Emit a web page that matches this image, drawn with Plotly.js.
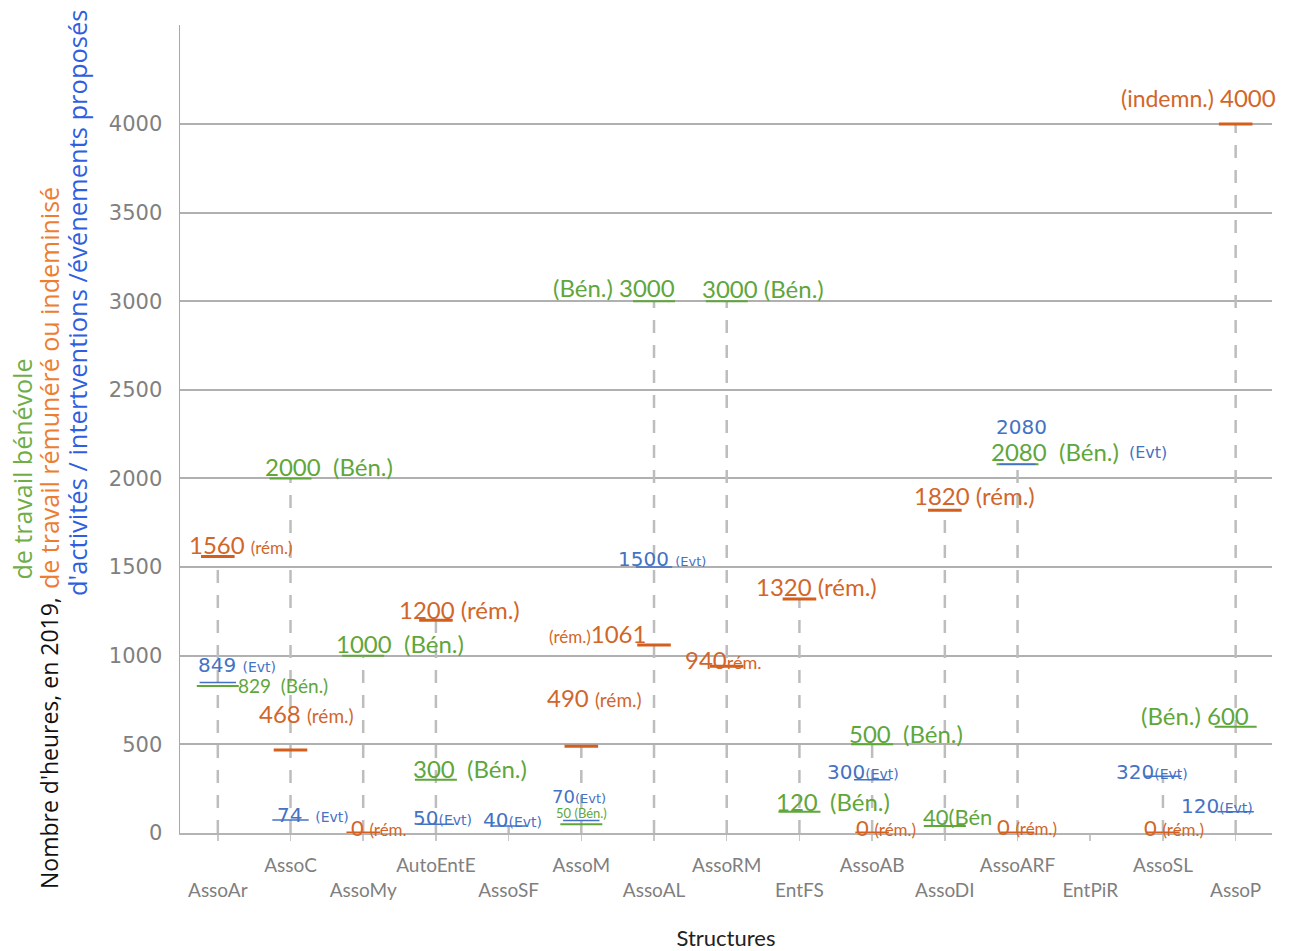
<!DOCTYPE html>
<html><head><meta charset="utf-8">
<script src="https://cdn.plot.ly/plotly-3.0.1.min.js"></script>
<style>html,body{margin:0;padding:0;background:#fff}#chart{width:1291px;height:951px}</style>
</head><body><div id="chart"></div>
<script>
// ---------- data ----------
const categories = ['AssoAr','AssoC','AssoMy','AutoEntE','AssoSF','AssoM','AssoAL','AssoRM','EntFS','AssoAB','AssoDI','AssoARF','EntPiR','AssoSL','AssoP'];
const heuresBenevole  = [829, 2000, 1000, 300, null, 50, 3000, 3000, 120, 500, 40, 2080, null, null, 600];
const heuresRemunere  = [1560, 468, 0, 1200, null, 490, 1061, 940, 1320, 0, 1820, 0, null, 0, 4000];
const evenements      = [849, 74, null, 50, 40, 70, 1500, null, null, 300, null, 2080, null, 320, 120];
const yTickValues = [0, 500, 1000, 1500, 2000, 2500, 3000, 3500, 4000];

// ---------- styles ----------
const ORANGE = '#d2662a', GREEN = '#5fa63b', BLUE = '#4472c4';
const NB = '\u00a0';
const tag = (t, s) => `<span style="font-size:${s}px">${t}</span>`;

// label layout: index, text builder, pixel offsets from the point
const remLabels = [
  {i:0,  f:v=>`${v}${NB}${tag('(rém.)',17)}`, dx:-30, dy:12},
  {i:1,  f:v=>`${v}${NB}${tag('(rém.)',19)}`, dx:-33, dy:37},
  {i:2,  f:v=>`${v}${NB}${tag('(rém.',17)}`, dx:-13, dy:6, size:22},
  {i:3,  f:v=>`${v}${NB}${tag('(rém.)',24)}`, dx:-38, dy:11},
  {i:5,  f:v=>`${v}${NB}${tag('(rém.)',19)}`, dx:-35, dy:49},
  {i:6,  f:v=>`${tag('(rém.)',17)}${v}`, dx:-106, dy:11},
  {i:7,  f:v=>`${v}${tag('rém.',18)}`, dx:-43, dy:7},
  {i:8,  f:v=>`${v}${NB}${tag('(rém.)',24)}`, dx:-44, dy:13},
  {i:9,  f:v=>`${v}${NB}${tag('(rém.)',17)}`, dx:-17, dy:6, size:22},
  {i:10, f:v=>`${v}${NB}${tag('(rém.)',24)}`, dx:-32, dy:15},
  {i:11, f:v=>`${v}${NB}${tag('(rém.)',17)}`, dx:-22, dy:7, size:22},
  {i:13, f:v=>`${v}${NB}${tag('(rém.)',17)}`, dx:-20, dy:6, size:22},
  {i:14, f:v=>`${tag('(indemn.)',23)}${NB}${v}`, dx:-116, dy:26}
];
const benLabels = [
  {i:0,  f:v=>`${v}${NB}${NB}(Bén.)`, dx:19, dy:1, size:19},
  {i:1,  f:v=>`${v}${NB}${NB}(Bén.)`, dx:-27, dy:12},
  {i:2,  f:v=>`${v}${NB}${NB}(Bén.)`, dx:-28, dy:12},
  {i:3,  f:v=>`${v}${NB}${NB}(Bén.)`, dx:-24, dy:11},
  {i:5,  f:v=>`${v}${NB}(Bén.)`, dx:-26, dy:11, size:13},
  {i:6,  f:v=>`(Bén.)${NB}${v}`, dx:-102, dy:14},
  {i:7,  f:v=>`${v}${NB}(Bén.)`, dx:-26, dy:13},
  {i:8,  f:v=>`${v}${NB}${NB}(Bén.)`, dx:-24, dy:10},
  {i:9,  f:v=>`${v}${NB}${NB}(Bén.)`, dx:-24, dy:11},
  {i:10, f:v=>`${v}(Bén`, dx:-23, dy:9, size:22},
  {i:11, f:v=>`${v}${NB}${NB}(Bén.)`, dx:-28, dy:13},
  {i:14, f:v=>`(Bén.)${NB}${v}`, dx:-96, dy:11}
];
const evtLabels = [
  {i:0,  f:v=>`${v}${NB}${tag('(Evt)',14)}`, dx:-21, dy:18},
  {i:1,  f:v=>`${v}${NB}${NB}${tag('(Evt)',14)}`, dx:-15, dy:5},
  {i:3,  f:v=>`${v}${tag('(Evt)',14)}`, dx:-24, dy:6},
  {i:4,  f:v=>`${v}${tag('(Evt)',14)}`, dx:-27, dy:6},
  {i:5,  f:v=>`${v}${tag('(Evt)',13)}`, dx:-30, dy:24, size:18},
  {i:6,  f:v=>`${v}${NB}${tag('(Evt)',13)}`, dx:-37, dy:8},
  {i:9,  f:v=>`${v}${tag('(Evt)',14)}`, dx:-46, dy:8},
  {i:11, f:v=>`${v}`, dx:-23, dy:37},
  {i:11, f:v=>`${tag('(Evt)',16)}`, dx:110, dy:12},
  {i:13, f:v=>`${v}${tag('(Evt)',14)}`, dx:-48, dy:4},
  {i:14, f:v=>`${v}${tag('(Evt)',14)}`, dx:-56, dy:6}
];

// ---------- traces ----------
const dropX = [], dropY = [];
categories.forEach((c, i) => {
  const vals = [heuresBenevole[i], heuresRemunere[i], evenements[i]].filter(v => v !== null);
  if (vals.length) { dropX.push(c, c, null); dropY.push(0, Math.max(...vals), null); }
});

const traces = [
  {x: dropX, y: dropY, mode: 'lines', type: 'scatter', hoverinfo: 'skip',
   line: {color: '#bdbdbd', width: 2.5, dash: '13px,12px'}, showlegend: false},
  {x: categories, y: heuresBenevole, mode: 'markers', type: 'scatter', name: 'Bénévole',
   marker: {symbol: 'line-ew', size: 30, line: {color: GREEN, width: 2}}, showlegend: false},
  {x: categories, y: heuresRemunere, mode: 'markers', type: 'scatter', name: 'Rémunéré',
   marker: {symbol: 'line-ew', size: 24, line: {color: '#d45f1c', width: 3}}, showlegend: false},
  {x: categories, y: evenements, mode: 'markers', type: 'scatter', name: 'Evt',
   marker: {symbol: 'line-ew', size: 26, line: {color: BLUE, width: 1.5}}, showlegend: false}
];

// ---------- annotations ----------
const annotations = [];
function addLabels(list, series, color, family, defSize) {
  list.forEach(l => {
    const v = series[l.i];
    annotations.push({
      x: l.i, y: v, xref: 'x', yref: 'y', text: l.f(v), showarrow: false,
      xanchor: 'left', yanchor: 'middle', xshift: l.dx, yshift: l.dy,
      font: {family: family, size: l.size || defSize, color: color}, borderpad: 0
    });
  });
}
addLabels(remLabels, heuresRemunere, ORANGE, 'Lato, sans-serif', 24);
addLabels(benLabels, heuresBenevole, GREEN, 'Lato, sans-serif', 24);
addLabels(evtLabels, evenements, BLUE, 'DejaVu Sans, sans-serif', 20);

// y-axis title (multi-coloured, three lines)
const pxX = px => (px - 180) / 1092;
const pxY = py => (833 - py) / 808;
[
  {t: "Nombre d'heures, en 2019,", x: 49, y: 890, c: '#111111', s: 23},
  {t: 'de travail rémunéré ou indeminisé', x: 49, y: 590, c: '#ed7d31', s: 25},
  {t: 'de travail bénévole', x: 21, y: 581, c: '#70ad47', s: 25},
  {t: "d'activités / intertventions /événements proposés", x: 77, y: 597, c: '#2f5fe0', s: 25.5}
].forEach(o => annotations.push({
  xref: 'paper', yref: 'paper', x: pxX(o.x), y: pxY(o.y), text: o.t, textangle: -90,
  showarrow: false, xanchor: 'center', yanchor: 'bottom',
  font: {family: 'Open Sans, sans-serif', size: o.s, color: o.c}, borderpad: 0
}));

const tickText = categories.map((c, i) => i % 2 === 0 ? '<br>' + c : c);

const layout = {
  width: 1291, height: 951,
  margin: {l: 180, r: 19, t: 25, b: 118},
  paper_bgcolor: '#ffffff', plot_bgcolor: '#ffffff',
  showlegend: false,
  xaxis: {
    type: 'category', categoryorder: 'array', categoryarray: categories,
    range: [-0.52, 14.5], showgrid: false, zeroline: false,
    showline: true, linecolor: '#b4b4b4', linewidth: 2,
    ticks: 'outside', ticklen: 6, tickwidth: 1.5, tickcolor: '#c8c8c8',
    tickvals: categories, ticktext: tickText, ticklabelstandoff: 8, tickangle: 0,
    tickfont: {family: 'Lato, sans-serif', size: 19, color: '#7f7f7f'},
    title: {text: 'Structures', font: {family: 'Lato, sans-serif', size: 22, color: '#222222'}, standoff: 31}
  },
  yaxis: {
    range: [0, 4558], tickvals: yTickValues, ticktext: yTickValues.map(String),
    showgrid: true, gridcolor: '#b0b0b0', gridwidth: 2, zeroline: false,
    showline: true, linecolor: '#a8a8a8', linewidth: 1.5,
    ticks: '', ticklabelstandoff: 12,
    tickfont: {family: 'DejaVu Sans, sans-serif', size: 21, color: '#808080'},
    title: {text: ''}
  },
  annotations: annotations
};

Plotly.newPlot('chart', traces, layout, {displayModeBar: false, staticPlot: true});
</script>
</body></html>
